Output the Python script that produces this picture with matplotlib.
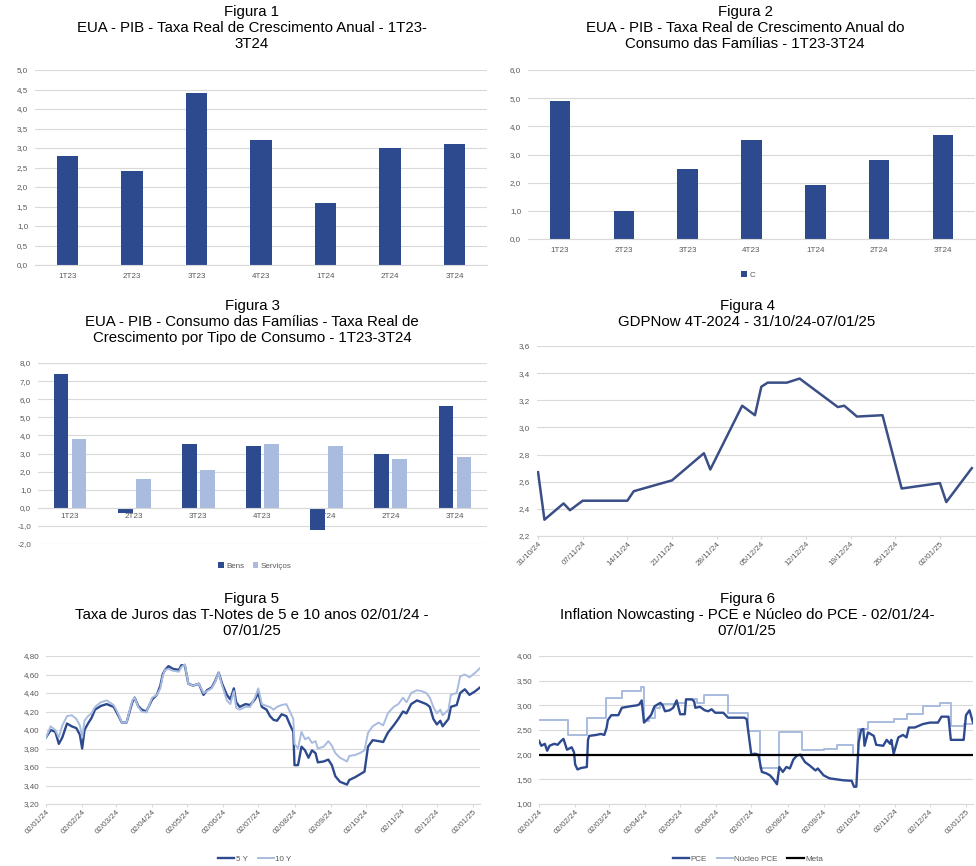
import matplotlib
matplotlib.use('Agg')
import matplotlib.pyplot as plt
import matplotlib.dates as mdates
from matplotlib.ticker import FuncFormatter
import pandas as pd

plt.rcParams['font.family'] = ['Liberation Sans', 'DejaVu Sans']

# ---------------------------------------------------------------- data
quarters = ['1T23', '2T23', '3T23', '4T23', '1T24', '2T24', '3T24']
pib = [2.8, 2.4, 4.4, 3.2, 1.6, 3.0, 3.1]
consumo = [4.9, 1.0, 2.5, 3.5, 1.9, 2.8, 3.7]
bens = [7.4, -0.3, 3.5, 3.4, -1.2, 3.0, 5.6]
servicos = [3.8, 1.6, 2.1, 3.5, 3.4, 2.7, 2.8]

gdp_dates = ['2024-10-31', '2024-11-01', '2024-11-04', '2024-11-05', '2024-11-07',
             '2024-11-14', '2024-11-15', '2024-11-21', '2024-11-26', '2024-11-27',
             '2024-12-02', '2024-12-04', '2024-12-05', '2024-12-06', '2024-12-09',
             '2024-12-11', '2024-12-17', '2024-12-18', '2024-12-20', '2024-12-24',
             '2024-12-27', '2025-01-02', '2025-01-03', '2025-01-07']
gdpnow = [2.67, 2.32, 2.44, 2.39, 2.46, 2.46, 2.53, 2.61, 2.81, 2.69,
          3.16, 3.09, 3.30, 3.33, 3.33, 3.36, 3.15, 3.16, 3.08, 3.09,
          2.55, 2.59, 2.45, 2.70]
gdp_ticks = ['2024-10-31', '2024-11-07', '2024-11-14', '2024-11-21', '2024-11-28',
             '2024-12-05', '2024-12-12', '2024-12-19', '2024-12-26', '2025-01-02']

START = '2024-01-02'
# days since 02/01/24
rate_days = [0, 4, 8, 11, 14, 18, 22, 26, 29,
             31, 33, 36, 39, 42, 47, 52, 58, 61, 65,
             69, 74, 76, 79, 82, 86, 91, 95, 98, 100,
             102, 105, 109, 114, 116, 119, 122, 126, 131, 135,
             138, 142, 145, 148, 151, 155, 158, 161, 163, 166,
             171, 175, 179, 182, 185, 189, 192, 195, 198, 202,
             206, 209, 212, 213, 216, 219, 222, 225, 228, 231,
             233, 238, 242, 245, 248, 252, 258, 260, 265, 269,
             273, 276, 280, 285, 289, 293, 298, 302, 306, 309,
             313, 318, 322, 326, 329, 332, 335, 338, 340, 345,
             347, 352, 355, 359, 363, 368, 372]
t5y = [3.92, 4.00, 3.98, 3.85, 3.92, 4.07, 4.04, 4.02, 3.95,
       3.80, 4.00, 4.07, 4.13, 4.22, 4.26, 4.28, 4.25, 4.18, 4.08,
       4.08, 4.30, 4.35, 4.26, 4.22, 4.20, 4.33, 4.38, 4.48, 4.60,
       4.65, 4.69, 4.66, 4.65, 4.70, 4.70, 4.50, 4.48, 4.50, 4.38,
       4.43, 4.46, 4.53, 4.62, 4.50, 4.38, 4.33, 4.45, 4.30, 4.25,
       4.28, 4.27, 4.33, 4.40, 4.25, 4.22, 4.15, 4.11, 4.10, 4.17,
       4.15, 4.06, 3.98, 3.62, 3.62, 3.82, 3.78, 3.70, 3.78, 3.75,
       3.65, 3.66, 3.68, 3.62, 3.50, 3.44, 3.41, 3.46, 3.49, 3.52,
       3.55, 3.82, 3.89, 3.88, 3.87, 3.97, 4.05, 4.12, 4.20, 4.18,
       4.28, 4.32, 4.30, 4.28, 4.25, 4.12, 4.06, 4.10, 4.04, 4.12,
       4.25, 4.27, 4.40, 4.44, 4.38, 4.42, 4.46]
t10y = [3.92, 4.04, 4.00, 3.92, 4.05, 4.15, 4.16, 4.12, 4.05,
        3.92, 4.10, 4.15, 4.18, 4.25, 4.30, 4.32, 4.27, 4.20, 4.08,
        4.08, 4.32, 4.35, 4.25, 4.20, 4.19, 4.35, 4.38, 4.45, 4.58,
        4.65, 4.66, 4.64, 4.63, 4.68, 4.71, 4.50, 4.48, 4.50, 4.40,
        4.42, 4.45, 4.52, 4.62, 4.48, 4.32, 4.28, 4.42, 4.24, 4.22,
        4.25, 4.25, 4.35, 4.45, 4.28, 4.26, 4.25, 4.22, 4.25, 4.27,
        4.28, 4.20, 4.12, 3.85, 3.80, 3.98, 3.90, 3.92, 3.86, 3.88,
        3.80, 3.82, 3.88, 3.83, 3.75, 3.70, 3.66, 3.72, 3.73, 3.75,
        3.78, 3.97, 4.04, 4.08, 4.05, 4.18, 4.25, 4.28, 4.35, 4.30,
        4.40, 4.43, 4.42, 4.40, 4.35, 4.25, 4.18, 4.22, 4.16, 4.22,
        4.38, 4.40, 4.58, 4.60, 4.57, 4.62, 4.67]

pce_days = [0, 2, 5, 7, 9, 13, 16, 19, 21, 24, 28, 30, 31, 33, 36, 41, 42, 43, 49, 53,
            56, 58, 59, 62, 68, 71, 78, 84, 86, 88, 90, 92, 96, 99, 104, 106, 108, 112,
            115, 118, 121, 125, 126, 131, 133, 134, 138, 142, 145, 148, 151, 158, 162,
            176, 178, 182, 185, 188, 191, 195, 198, 201, 204, 206, 209, 212, 215, 218,
            221, 224, 228, 232, 237, 239, 244, 249, 255, 261, 268, 270, 272, 274, 276,
            278, 279, 282, 287, 289, 295, 298, 301, 302, 304, 308, 312, 315, 317, 322,
            327, 329, 335, 342, 345, 351, 353, 364, 366, 369, 372]
pce = [2.28, 2.18, 2.22, 2.08, 2.18, 2.22, 2.20, 2.28, 2.32, 2.10, 2.15, 2.05, 1.80, 1.70,
       1.73, 1.75, 2.30, 2.38, 2.40, 2.42, 2.40, 2.55, 2.70, 2.80, 2.80, 2.95, 2.98, 3.00,
       3.02, 3.10, 2.65, 2.70, 2.80, 2.98, 3.05, 3.00, 2.88, 2.90, 2.95, 3.10, 2.82, 2.82,
       3.12, 3.12, 3.08, 2.95, 2.97, 2.90, 2.88, 2.92, 2.85, 2.85, 2.75, 2.75, 2.72, 2.00,
       2.02, 2.00, 1.65, 1.62, 1.58, 1.50, 1.40, 1.75, 1.65, 1.75, 1.72, 1.90, 1.98, 2.00,
       1.85, 1.78, 1.68, 1.72, 1.58, 1.52, 1.50, 1.48, 1.47, 1.35, 1.35, 2.25, 2.50, 2.52,
       2.18, 2.45, 2.38, 2.20, 2.18, 2.30, 2.22, 2.30, 2.02, 2.35, 2.40, 2.35, 2.55, 2.55,
       2.60, 2.62, 2.65, 2.65, 2.77, 2.77, 2.30, 2.30, 2.80, 2.90, 2.65]
core_days = [0, 25, 41, 57, 71, 87, 90, 94, 99, 104, 118, 126, 135, 141, 162, 179, 189,
             206, 225, 244, 255, 269, 273, 282, 304, 315, 329, 344, 353, 364, 372]
core_pce = [2.70, 2.40, 2.75, 3.15, 3.30, 3.38, 2.68, 2.75, 2.95, 3.02, 3.05, 3.12, 3.05,
            3.20, 2.84, 2.47, 1.72, 2.45, 2.10, 2.12, 2.20, 2.00, 2.53, 2.67, 2.72, 2.82,
            2.98, 3.05, 2.58, 2.62, 2.62]
meta = 2.0

DARK = '#2E4A8F'
LIGHT = '#A9BCDF'
GRID = '#D9D9D9'
TXT = '#595959'

W, H = 976, 866
fig = plt.figure(figsize=(9.76, 8.66), dpi=100)


def box(l, t, r, b):
    return fig.add_axes([l / W, 1 - b / H, (r - l) / W, (b - t) / H])


def style(ax, fmt):
    for s in ['left', 'top', 'right']:
        ax.spines[s].set_visible(False)
    ax.spines['bottom'].set_color(GRID)
    ax.yaxis.grid(True, color=GRID, lw=0.8)
    ax.set_axisbelow(True)
    ax.tick_params(axis='y', length=0, labelsize=5.8, labelcolor=TXT, pad=5)
    ax.tick_params(axis='x', labelsize=5.8, labelcolor=TXT)
    ax.yaxis.set_major_formatter(FuncFormatter(lambda v, _: fmt.format(v).replace('.', ',')))


def title(x, y, s):
    fig.text(x / W, 1 - y / H, s, ha='center', va='top', fontsize=10.8, linespacing=1.2)


# ---------------------------------------------------------------- Figura 1
ax1 = box(35, 70, 487, 265)
ax1.bar(range(len(quarters)), pib, width=0.33, color=DARK)
ax1.set_xticks(range(len(quarters)), quarters)
ax1.set_xlim(-0.5, 6.5)
ax1.set_ylim(0, 5)
ax1.set_yticks([i * 0.5 for i in range(11)])
style(ax1, '{:.1f}')
ax1.tick_params(axis='x', length=0, pad=6)
title(252, 5, 'Figura 1\nEUA - PIB - Taxa Real de Crescimento Anual - 1T23-\n3T24')

# ---------------------------------------------------------------- Figura 2
ax2 = box(528, 70, 975, 239)
ax2.bar(range(len(quarters)), consumo, width=0.32, color=DARK, label='C')
ax2.set_xticks(range(len(quarters)), quarters)
ax2.set_xlim(-0.5, 6.5)
ax2.set_ylim(0, 6)
ax2.set_yticks(range(7))
style(ax2, '{:.1f}')
ax2.tick_params(axis='x', length=0, pad=6)
ax2.legend(loc='center', bbox_to_anchor=(748 / W, 1 - 275 / H), bbox_transform=fig.transFigure,
           frameon=False, fontsize=5.8, handlelength=0.7, handleheight=0.7, handletextpad=0.3,
           labelcolor=TXT)
title(745, 5, 'Figura 2\nEUA - PIB - Taxa Real de Crescimento Anual do\nConsumo das Famílias - 1T23-3T24')

# ---------------------------------------------------------------- Figura 3
ax3 = box(38, 363, 487, 544)
xs = range(len(quarters))
ax3.bar([x - 0.14 for x in xs], bens, width=0.23, color=DARK, label='Bens')
ax3.bar([x + 0.14 for x in xs], servicos, width=0.23, color=LIGHT, label='Serviços')
ax3.set_xticks(list(xs), quarters)
ax3.set_xlim(-0.5, 6.5)
ax3.set_ylim(-2, 8)
ax3.set_yticks(range(-2, 9))
style(ax3, '{:.1f}')
ax3.spines['bottom'].set_position(('data', 0))
ax3.tick_params(axis='x', length=0, pad=4)
ax3.legend(loc='center', bbox_to_anchor=(255 / W, 1 - 566 / H), bbox_transform=fig.transFigure,
           ncol=2, frameon=False, fontsize=5.8, handlelength=0.7, handleheight=0.7,
           handletextpad=0.3, columnspacing=1.0, labelcolor=TXT)
title(252, 299, 'Figura 3\nEUA - PIB - Consumo das Famílias - Taxa Real de\nCrescimento por Tipo de Consumo - 1T23-3T24')

# ---------------------------------------------------------------- Figura 4
ax4 = box(537, 346, 975, 536)
ax4.plot(pd.to_datetime(gdp_dates), gdpnow, color='#3B4F86', lw=1.8)
ax4.set_xticks(pd.to_datetime(gdp_ticks))
ax4.xaxis.set_major_formatter(mdates.DateFormatter('%d/%m/%y'))
ax4.set_xlim(pd.Timestamp('2024-10-30 20:00'), pd.Timestamp('2025-01-07 12:00'))
ax4.set_ylim(2.2, 3.6)
ax4.set_yticks([2.2, 2.4, 2.6, 2.8, 3.0, 3.2, 3.4, 3.6])
style(ax4, '{:.1f}')
ax4.tick_params(axis='x', length=2, color=GRID, pad=1)
plt.setp(ax4.get_xticklabels(), rotation=45, ha='right', rotation_mode='anchor')
title(747, 299, 'Figura 4\nGDPNow 4T-2024 - 31/10/24-07/01/25')

# ---------------------------------------------------------------- Figura 5
ax5 = box(46, 656, 480, 804)
t5 = pd.Timestamp(START) + pd.to_timedelta(rate_days, unit='D')
ax5.plot(t5, t5y, color=DARK, lw=1.7, label='5 Y')
ax5.plot(t5, t10y, color=LIGHT, lw=1.4, label='10 Y')
ax5.xaxis.set_major_locator(mdates.MonthLocator(bymonthday=2))
ax5.xaxis.set_major_formatter(mdates.DateFormatter('%d/%m/%y'))
ax5.set_xlim(pd.Timestamp(START), pd.Timestamp('2025-01-08'))
ax5.set_ylim(3.2, 4.8)
ax5.set_yticks([3.2, 3.4, 3.6, 3.8, 4.0, 4.2, 4.4, 4.6, 4.8])
style(ax5, '{:.2f}')
ax5.tick_params(axis='x', length=2, color=GRID, pad=1)
plt.setp(ax5.get_xticklabels(), rotation=45, ha='right', rotation_mode='anchor')
ax5.legend(loc='center', bbox_to_anchor=(255 / W, 1 - 859 / H), bbox_transform=fig.transFigure,
           ncol=2, frameon=False, fontsize=5.8, handlelength=2.0, handletextpad=0.2,
           columnspacing=1.2, labelcolor=TXT)
title(252, 592, 'Figura 5\nTaxa de Juros das T-Notes de 5 e 10 anos 02/01/24 -\n07/01/25')

# ---------------------------------------------------------------- Figura 6
ax6 = box(539, 656, 973, 804)
t_pce = pd.Timestamp(START) + pd.to_timedelta(pce_days, unit='D')
t_core = pd.Timestamp(START) + pd.to_timedelta(core_days, unit='D')
ax6.plot(t_pce, pce, color=DARK, lw=1.7, label='PCE', zorder=3)
ax6.plot(t_core, core_pce, color=LIGHT, lw=1.4, drawstyle='steps-post', label='Núcleo PCE', zorder=2)
ax6.axhline(meta, color='black', lw=1.6, label='Meta', zorder=4)
ax6.xaxis.set_major_locator(mdates.MonthLocator(bymonthday=2))
ax6.xaxis.set_major_formatter(mdates.DateFormatter('%d/%m/%y'))
ax6.set_xlim(pd.Timestamp(START), pd.Timestamp('2025-01-08'))
ax6.set_ylim(1.0, 4.0)
ax6.set_yticks([1.0, 1.5, 2.0, 2.5, 3.0, 3.5, 4.0])
style(ax6, '{:.2f}')
ax6.tick_params(axis='x', length=2, color=GRID, pad=1)
plt.setp(ax6.get_xticklabels(), rotation=45, ha='right', rotation_mode='anchor')
ax6.legend(loc='center', bbox_to_anchor=(748 / W, 1 - 859 / H), bbox_transform=fig.transFigure,
           ncol=3, frameon=False, fontsize=5.8, handlelength=2.0, handletextpad=0.2,
           columnspacing=1.2, labelcolor=TXT)
title(747, 592, 'Figura 6\nInflation Nowcasting - PCE e Núcleo do PCE - 02/01/24-\n07/01/25')

fig.savefig('out.png', dpi=100)
